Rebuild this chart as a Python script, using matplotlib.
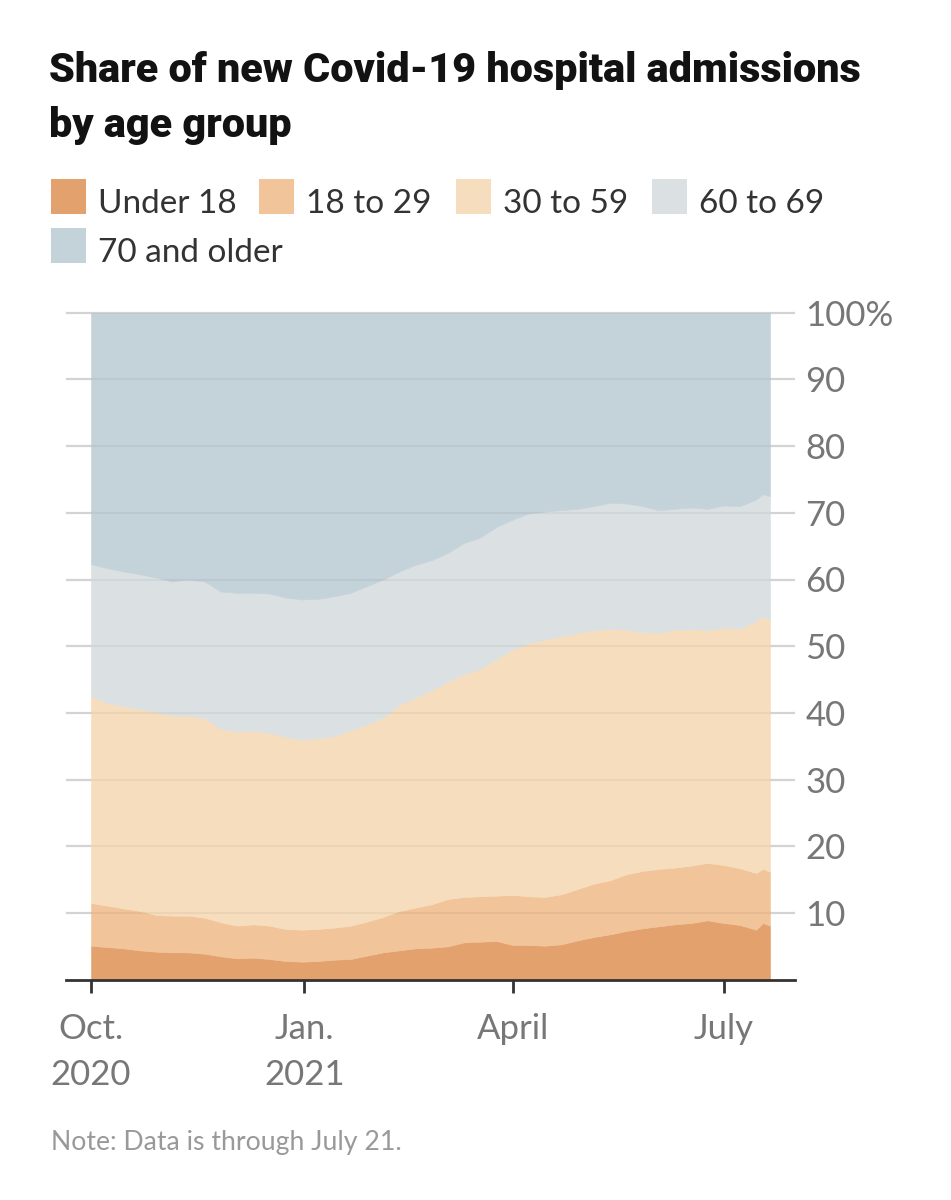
import matplotlib
matplotlib.use("Agg")
import matplotlib.pyplot as plt
import matplotlib.dates as mdates
from matplotlib.patches import Rectangle
import pandas as pd
import numpy as np

# ---------------- data (share of new admissions, %) ----------------
dates = list(pd.date_range("2020-10-01", periods=42, freq="7D")) + \
        [pd.Timestamp("2021-07-18"), pd.Timestamp("2021-07-21")]

under18 = [5.1, 4.9, 4.7, 4.4, 4.2, 4.1, 4.1, 3.9, 3.5, 3.2, 3.3, 3.1, 2.8, 2.7,
           2.8, 3.0, 3.1, 3.6, 4.1, 4.4, 4.7, 4.8, 5.0, 5.6, 5.7, 5.8, 5.2, 5.2,
           5.1, 5.3, 5.9, 6.4, 6.8, 7.3, 7.7, 8.0, 8.3, 8.5, 8.9, 8.5, 8.2, 7.5,
           8.5, 8.1]
age18_29 = [6.4, 6.2, 6.0, 5.9, 5.5, 5.5, 5.5, 5.4, 5.1, 4.9, 5.0, 5.0, 4.8, 4.8,
            4.8, 4.8, 5.0, 5.1, 5.3, 5.9, 6.1, 6.5, 7.1, 6.8, 6.8, 6.8, 7.5, 7.3,
            7.3, 7.5, 7.7, 8.0, 8.1, 8.5, 8.6, 8.6, 8.5, 8.6, 8.6, 8.7, 8.5, 8.5,
            8.1, 8.1]
age30_59 = [31.0, 30.4, 30.3, 30.3, 30.4, 30.0, 30.0, 29.9, 29.0, 29.1, 29.0, 28.9,
            28.8, 28.5, 28.6, 28.7, 29.3, 29.6, 29.9, 30.9, 31.5, 32.1, 32.6, 33.4,
            34.1, 35.5, 36.8, 38.0, 38.6, 38.7, 38.4, 38.0, 37.7, 36.7, 35.8, 35.4,
            35.7, 35.5, 34.9, 35.6, 35.9, 37.8, 37.8, 37.8]
age60_69 = [19.8, 20.2, 20.2, 20.2, 20.2, 20.1, 20.4, 20.5, 20.6, 20.8, 20.7, 20.9,
            20.9, 21.0, 20.9, 21.0, 20.6, 20.7, 20.7, 20.0, 19.9, 19.5, 19.3, 19.7,
            19.7, 19.8, 19.5, 19.4, 19.2, 18.9, 18.6, 18.6, 18.9, 18.9, 18.9, 18.4,
            18.1, 18.2, 18.2, 18.3, 18.4, 18.2, 18.4, 18.5]
age70_plus = [37.7, 38.3, 38.8, 39.2, 39.7, 40.3, 40.0, 40.3, 41.8, 42.0, 42.0, 42.1,
              42.7, 43.0, 42.9, 42.5, 42.0, 41.0, 40.0, 38.8, 37.8, 37.1, 36.0, 34.5,
              33.7, 32.1, 31.0, 30.1, 29.8, 29.6, 29.4, 29.0, 28.5, 28.6, 29.0, 29.6,
              29.4, 29.2, 29.4, 28.9, 29.0, 28.0, 27.2, 27.5]

labels = ["Under 18", "18 to 29", "30 to 59", "60 to 69", "70 and older"]
colors = ["#e3a26d", "#f1c49a", "#f6ddbd", "#dbe0e3", "#c4d2d9"]

yticks = [10, 20, 30, 40, 50, 60, 70, 80, 90, 100]
ytick_labels = ["10", "20", "30", "40", "50", "60", "70", "80", "90", "100%"]
xtick_dates = ["2020-10-01", "2021-01-01", "2021-04-01", "2021-07-01"]
xtick_labels = ["Oct.\n2020", "Jan.\n2021", "April", "July"]

# ---------------- figure ----------------
W, H = 951, 1200
fig = plt.figure(figsize=(W / 100, H / 100), dpi=100)
fig.patch.set_facecolor("white")

def fx(px):
    return px / W

def fy(py):
    return 1 - py / H

ymax = 101
y0_px, y100_px = 979.7, 312.7
px_per_unit = (y0_px - y100_px) / 100
ax_left, ax_right = 66, 795
ax_bottom_px = y0_px
ax_top_px = y0_px - ymax * px_per_unit
ax = fig.add_axes([fx(ax_left), fy(ax_bottom_px), (ax_right - ax_left) / W,
                   (ax_bottom_px - ax_top_px) / H])
ax.set_facecolor("none")

x = mdates.date2num(dates)
ax.stackplot(x, under18, age18_29, age30_59, age60_69, age70_plus,
             colors=colors, edgecolor="face", linewidth=0.4, zorder=1)

# gridlines: light grey under the areas, faint overlay on top
for t in yticks:
    ax.axhline(t, color="#dddddd", lw=1.6, zorder=0)
    ax.axhline(t, color="#000000", alpha=0.045, lw=1.6, zorder=2)

px_per_day = (770 - 91) / 293.0
pad_days = (91 - ax_left) / px_per_day
pad_days_r = (ax_right - 770) / px_per_day
ax.set_xlim(x[0] - pad_days, x[-1] + pad_days_r)
ax.set_ylim(0, ymax)

for s in ["left", "right", "top"]:
    ax.spines[s].set_visible(False)
ax.spines["bottom"].set_color("#333333")
ax.spines["bottom"].set_linewidth(2.0)
ax.spines["bottom"].set_zorder(5)

ax.yaxis.tick_right()
ax.set_yticks(yticks)
ax.set_yticklabels(ytick_labels)
ax.tick_params(axis="y", length=0, pad=7.5, labelsize=25, labelcolor="#777777")

ax.set_xticks(mdates.date2num(pd.to_datetime(xtick_dates)))
ax.set_xticklabels(xtick_labels, linespacing=1.55)
ax.tick_params(axis="x", length=9, width=2, color="#333333", pad=15,
               labelsize=25, labelcolor="#777777")
for lab in ax.get_xticklabels() + ax.get_yticklabels():
    lab.set_fontfamily("Lato")

# ---------------- title ----------------
tfont = dict(family="Roboto", weight="black", size=29.8, color="#121212")
fig.text(fx(49), fy(82), "Share of new Covid-19 hospital admissions",
         va="baseline", ha="left", **tfont)
fig.text(fx(49), fy(137), "by age group", va="baseline", ha="left", **tfont)

# ---------------- legend ----------------
leg_items = [(51, 179, 0), (259, 179, 1), (456, 179, 2), (652, 179, 3), (51, 228, 4)]
sq = 35
for lx, ly, i in leg_items:
    fig.patches.append(Rectangle((fx(lx), fy(ly + sq)), sq / W, sq / H,
                                 transform=fig.transFigure, facecolor=colors[i],
                                 edgecolor="none"))
    fig.text(fx(lx + sq + 12), fy(ly + 34), labels[i], family="Lato",
             size=24, color="#333333", va="baseline", ha="left")

# ---------------- note ----------------
fig.text(fx(51), fy(1150), "Note: Data is through July 21.", family="Lato",
         size=19.2, color="#999999", va="baseline", ha="left")

fig.savefig("out.png", dpi=100, facecolor="white")
